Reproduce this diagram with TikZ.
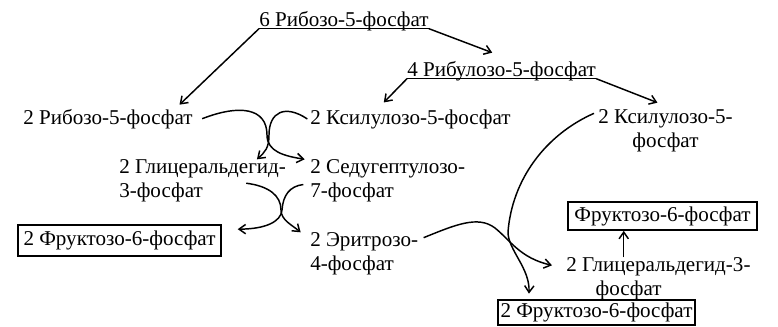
\documentclass[tikz,border=0pt]{standalone}
\usepackage{fontspec}
\setmainfont{Liberation Serif}
\usetikzlibrary{arrows.meta}

\begin{document}
\begin{tikzpicture}[
x=0.75pt,y=-0.75pt,
lbl/.style={
inner sep=0pt,anchor=base west,
font=\fontsize{15.8}{17.6}\selectfont
},
box/.style={
rectangle,draw,line width=1.3pt,inner sep=0pt,
minimum height=21pt,
font=\fontsize{15.8}{17.6}\selectfont
},
arrow/.style={-{Straight Barb[length=5pt,width=7pt]},line width=1.1pt},
uline/.style={line width=1pt}
]
\useasboundingbox (0,0) rectangle (778,326);

\node[lbl] (t6) at (259,26) {6 Рибозо-5-фосфат};
\node[lbl] (t4) at (407,76) {4 Рибулозо-5-фосфат};

\node[lbl] (rib2) at (23,124) {2 Рибозо-5-фосфат};
\node[lbl] (xyl2) at (310,124) {2 Ксилулозо-5-фосфат};
\node[lbl,align=center] (xylR) at (598,147) {2 Ксилулозо-5-\\фосфат};

\node[lbl,align=left] (gap) at (119,197) {2 Глицеральдегид-\\3-фосфат};
\node[lbl,align=left] (sed) at (310,197) {2 Седугептулозо-\\7-фосфат};
\node[lbl,align=left] (ery) at (310,270) {2 Эритрозо-\\4-фосфат};
\node[lbl,align=left] (gapR) at (566,295) {2 Глицеральдегид-3-\\\hspace*{22pt}фосфат};

\node[box,minimum width=152pt,minimum height=23pt] (f6pL) at (119.5,240.5) {2 Фруктозо-6-фосфат};
\node[box,minimum width=142pt] (f6pR) at (662.5,216) {Фруктозо-6-фосфат};
\node[box,minimum width=148pt,minimum height=19pt] (f6pB) at (596.5,312.5) {2 Фруктозо-6-фосфат};

% underlines
\coordinate (t6l) at ([yshift=-2pt]t6.base west);
\coordinate (t6r) at ([yshift=-2pt]t6.base east);
\coordinate (t4l) at ([yshift=-2pt]t4.base west);
\coordinate (t4r) at ([yshift=-2pt]t4.base east);
\draw[uline] (t6l) -- (t6r);
\draw[uline] (t4l) -- (t4r);

\draw[arrow] (t6l) -- ([xshift=-10pt,yshift=3pt]rib2.north east);
\draw[arrow] (t6r) -- ([xshift=-7pt,yshift=6pt]t4.north);
\draw[arrow] (t4l) -- ([xshift=-20pt,yshift=5pt]xyl2.north);
\draw[arrow] (t4r) -- ([xshift=-6pt,yshift=5pt]xylR.north);

% first exchange
\draw[arrow] ([xshift=7pt]rib2.east) .. controls (240,104) and (267,108) .. (267,135)
  .. controls (267,152) and (285,156) .. ([xshift=-4pt]sed.north west);
\draw[arrow] ([xshift=-2pt]xyl2.west) .. controls (285,104) and (269,112) .. (269,135)
  .. controls (269,148) and (265,152) .. ([xshift=-22pt]gap.north east);

% second exchange
\draw[arrow] ([xshift=-30pt,yshift=-2pt]gap.east) .. controls (268,186) and (281,195) .. (281,210)
  .. controls (281,220) and (292,225) .. ([xshift=-7pt]ery.north west);
\draw[arrow] ([xshift=-5pt,yshift=-3pt]sed.west) .. controls (290,186) and (283,195) .. (282,210)
  .. controls (281,222) and (265,229) .. ([xshift=12pt,yshift=8.5pt]f6pL.east);

% third exchange
\draw[arrow] ([xshift=-3pt,yshift=-3pt]xylR.north west) .. controls (545,135) and (512,180) .. (508,232)
  .. controls (508,250) and (530,268) .. ([xshift=24pt,yshift=4pt]f6pB.north west);
\draw[arrow] ([xshift=4pt,yshift=-4pt]ery.north east) .. controls (455,225) and (478,215) .. (495,228)
  .. controls (510,240) and (520,258) .. ([xshift=-10.5pt,yshift=-6pt]gapR.north west);

\draw[arrow] ([xshift=-26pt]gapR.north) -- ([xshift=-26pt]gapR.north |- f6pR.south);

\end{tikzpicture}
\end{document}
